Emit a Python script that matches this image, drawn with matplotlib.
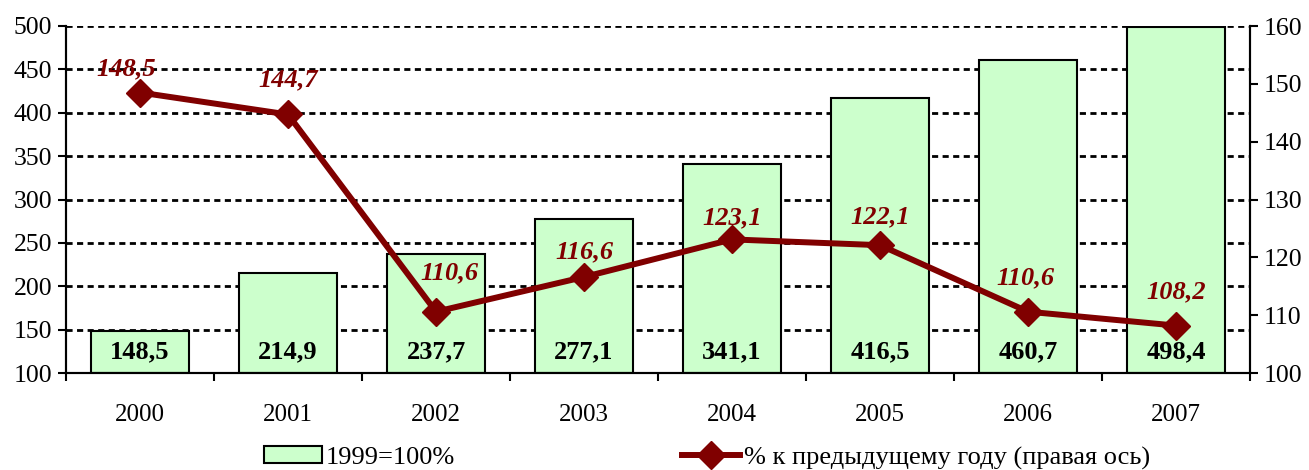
import matplotlib
matplotlib.use("Agg")
import matplotlib.pyplot as plt
from matplotlib.patches import Patch
from matplotlib.lines import Line2D

plt.rcParams['font.family'] = ['Liberation Serif', 'DejaVu Serif']

# data
years = ['2000', '2001', '2002', '2003', '2004', '2005', '2006', '2007']
index_1999 = [148.5, 214.9, 237.7, 277.1, 341.1, 416.5, 460.7, 498.4]
pct_prev = [148.5, 144.7, 110.6, 116.6, 123.1, 122.1, 110.6, 108.2]

# label offsets for the line values (pixels)
line_lbl_off = [(-14, 24), (0, 35), (13, 39), (0, 25), (0, 22), (0, 28), (-3, 34), (0, 34)]

bar_color = '#CCFFCC'
line_color = '#800000'

fig = plt.figure(figsize=(13.09, 4.70), dpi=100)
ax = fig.add_axes([66 / 1309, 1 - 373 / 470, (1250 - 66) / 1309, (373 - 26) / 470])
ax2 = ax.twinx()

x = list(range(len(years)))
ax.bar(x, [v - 100 for v in index_1999], bottom=100, width=0.66,
       color=bar_color, edgecolor='black', linewidth=1.5, zorder=2)
for xi, v in zip(x, index_1999):
    ax.text(xi, 124, f"{v:.1f}".replace('.', ','), ha='center', va='center',
            fontsize=19, fontweight='bold', color='black', zorder=3)

ax.set_xlim(-0.5, len(years) - 0.5)
ax.set_ylim(100, 500)
ax.set_yticks(range(100, 501, 50))
ax.yaxis.grid(True, color='black', linestyle=(0, (2.2, 1.6)), linewidth=2)
ax.set_axisbelow(True)
ax.set_xticks(x)
ax.set_xticklabels(years)
ax.set_xticks([i - 0.5 for i in range(len(years) + 1)], minor=True)
ax.tick_params(axis='x', which='major', length=0, pad=22, labelsize=18)
ax.tick_params(axis='x', which='minor', length=6, width=1.5, direction='out')
ax.tick_params(axis='y', length=6, width=1.5, labelsize=18.5, pad=4)

ax2.plot(x, pct_prev, color=line_color, linewidth=4.3, marker='D', markersize=14,
         zorder=4)
for xi, v, (dx, dy) in zip(x, pct_prev, line_lbl_off):
    ax2.annotate(f"{v:.1f}".replace('.', ','), (xi, v), xytext=(dx, dy),
                 textcoords='offset pixels', ha='center', va='center',
                 fontsize=19, fontweight='bold', fontstyle='italic', color=line_color)
ax2.set_ylim(100, 160)
ax2.set_yticks(range(100, 161, 10))
ax2.tick_params(axis='y', length=6, width=1.5, labelsize=18.5, pad=4)

for a in (ax, ax2):
    a.spines['top'].set_visible(False)
    for s in ('left', 'right', 'bottom'):
        a.spines[s].set_linewidth(1.5)

handles = [Patch(facecolor=bar_color, edgecolor='black', linewidth=1.5),
           Line2D([], [], color=line_color, linewidth=4.3, marker='D', markersize=14)]
fig.legend(handles, ['1999=100%', '% к предыдущему году (правая ось)'],
           loc='center', bbox_to_anchor=(707 / 1309, 12 / 470), ncol=2,
           frameon=False, fontsize=19, handlelength=2.2, handleheight=0.6,
           handletextpad=0.15, columnspacing=8.6)

fig.savefig('out.png', dpi=100)
